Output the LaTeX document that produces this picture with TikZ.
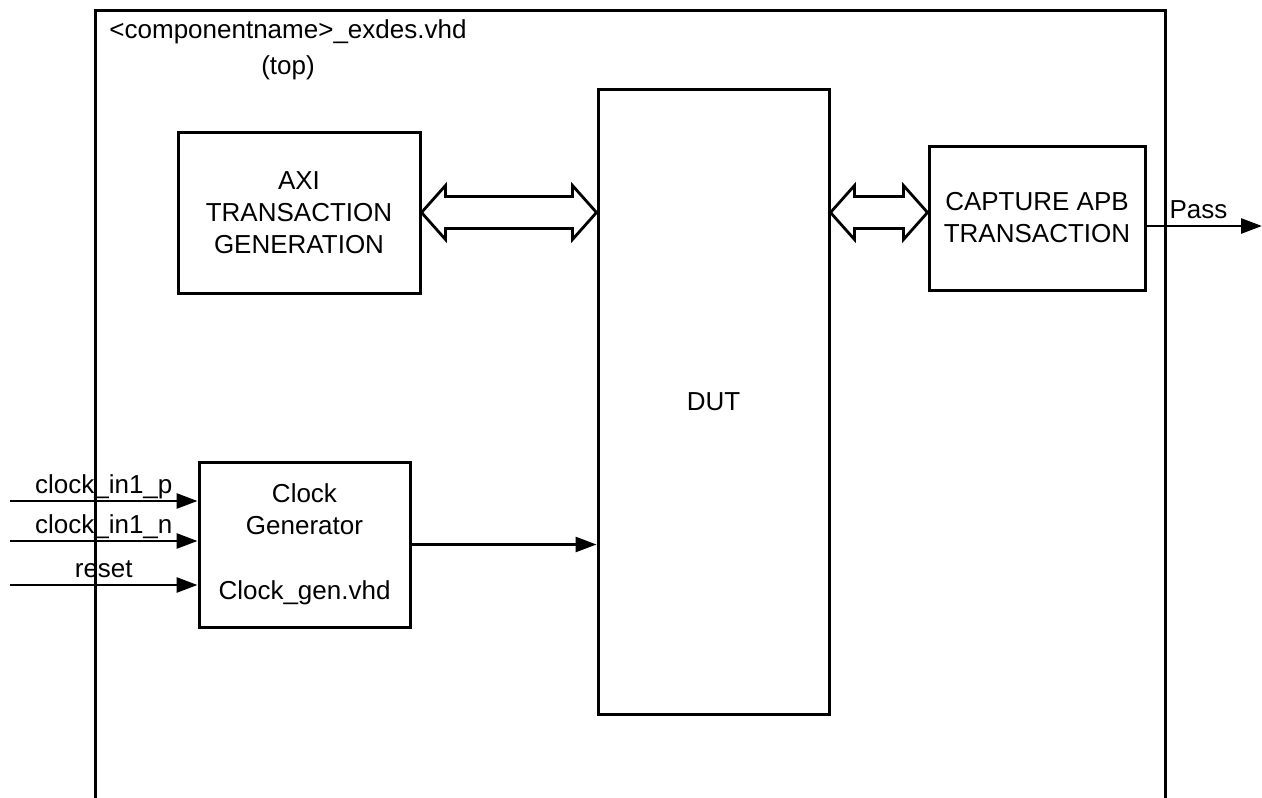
\documentclass[tikz,border=0pt]{standalone}
\usepackage{fontspec}
\setmainfont{Liberation Sans}
\usetikzlibrary{positioning}
\usetikzlibrary{arrows.meta}
\usetikzlibrary{calc}

\tikzset{
  blk/.style={draw, line width=3pt, align=center, inner sep=0pt},
  sig/.style={line width=2.8pt, -{Triangle[length=21pt, width=15pt]}},
  hollow/.style={draw, line width=2.8pt, fill=white, line join=miter},
}
\newcommand{\dblarrow}[2]{%
  \draw[hollow] (#1) -- ($(#1)+(24,-27)$) -- ($(#1)+(24,-16)$) -- ($(#2)+(-24,-16)$)
    -- ($(#2)+(-24,-27)$) -- (#2) -- ($(#2)+(-24,27)$) -- ($(#2)+(-24,16)$)
    -- ($(#1)+(24,16)$) -- ($(#1)+(24,27)$) -- cycle;}

\begin{document}
\begin{tikzpicture}[x=1pt, y=-1pt, every node/.style={font=\fontsize{26}{32}\selectfont}]
    \useasboundingbox (0,0) rectangle (1262,798);
    \draw[line width=3pt] (95,798) -- (95,10) -- (1165,10) -- (1165,798);
    \node[align=center] (title) at (288,50) {<componentname>\_exdes.vhd\\[4pt](top)};

    \node[blk, minimum width=242pt, minimum height=161pt] (axi) at (299,212.5) {AXI\\TRANSACTION\\GENERATION};
    \node[blk, minimum width=231pt, minimum height=625pt] (dut) at (713.5,401.5) {DUT};
    \node[blk, minimum width=216pt, minimum height=144pt] (cap) at (1037,218) {CAPTURE APB\\TRANSACTION};
    \node[blk, minimum width=211pt, minimum height=165pt] (clk) at (304.5,544.5) {Clock\\Generator\\[33pt]Clock\_gen.vhd};

    % buses
    \coordinate (dutA) at (dut.west |- axi.east);
    \coordinate (dutB) at (dut.east |- axi.east);
    \coordinate (capW) at (cap.west |- axi.east);
    \dblarrow{axi.east}{dutA}
    \dblarrow{dutB}{capW}

    % clock and reset inputs
    \coordinate (inP) at (10,501);
    \coordinate (inN) at (10,541);
    \coordinate (inR) at (10,585);
    \draw[sig] (inP) -- (inP -| clk.west) node[midway, anchor=base, yshift=8pt] {clock\_in1\_p};
    \draw[sig] (inN) -- (inN -| clk.west) node[midway, anchor=base, yshift=8pt] {clock\_in1\_n};
    \draw[sig] (inR) -- (inR -| clk.west) node[midway, anchor=base, yshift=8pt] {reset};
    \draw[sig] (clk.east) -- (clk.east -| dut.west);

    % result
    \coordinate (passEnd) at (1262,226);
    \draw[sig] (cap.east |- passEnd) -- (passEnd) node[pos=0.45, anchor=base, yshift=8pt] {Pass};
\end{tikzpicture}
\end{document}
